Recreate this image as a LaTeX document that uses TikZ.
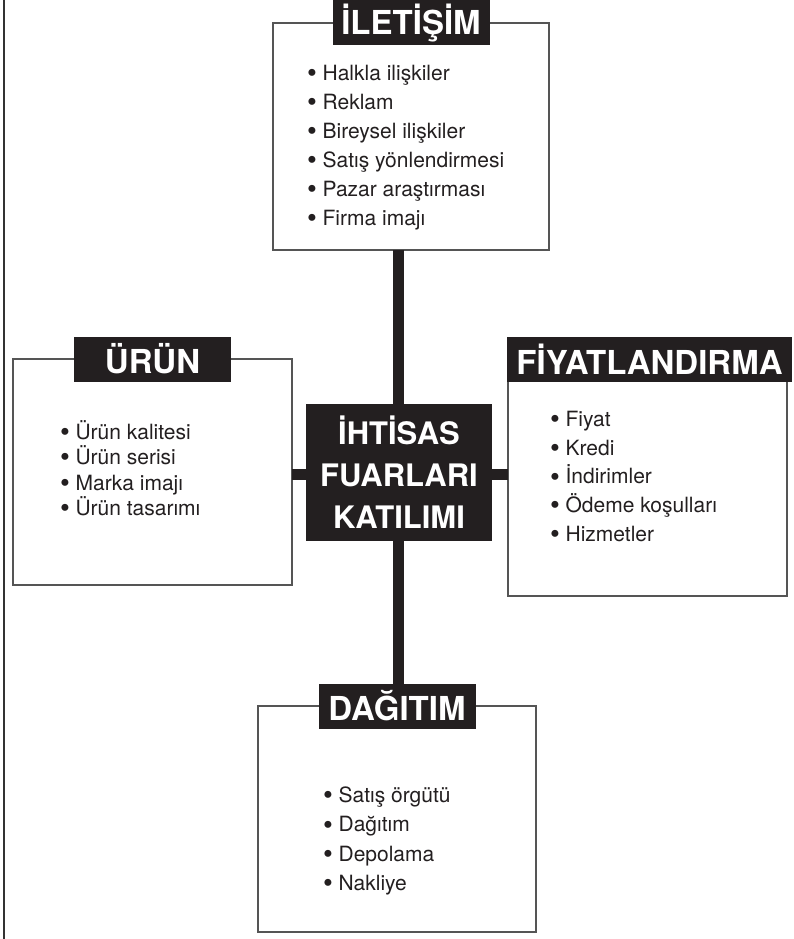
\documentclass[tikz,border=0pt]{standalone}
\usepackage{fontspec}
\setmainfont{TeX Gyre Heros}
\definecolor{ink}{HTML}{231F20}
\definecolor{boxgray}{HTML}{555555}
\definecolor{rulegray}{HTML}{333333}
\newcommand\mybul{\raisebox{-2.3pt}{\fontsize{28}{28}\selectfont •}}
\begin{document}
\begin{tikzpicture}[x=1pt,y=-1pt,
  boxnode/.style={draw=boxgray,line width=1.1pt,inner sep=0pt,outer sep=0pt,anchor=north west},
  titlenode/.style={fill=ink,text=white,font=\fontsize{33}{38}\selectfont\bfseries,
    minimum height=45pt,minimum width=157pt,inner sep=0pt,outer sep=0pt},
  itemnode/.style={anchor=base west,inner sep=0pt,outer sep=0pt,text=ink,font=\fontsize{21}{25}\selectfont},
  bar/.style={draw=ink,line width=11pt},
  hubnode/.style={fill=ink,text=white,minimum width=186pt,minimum height=137pt,inner sep=0pt,
    align=center,font=\fontsize{31}{42}\selectfont\bfseries}]
\useasboundingbox (0,0) rectangle (794,939);
% left margin rule
\draw[rulegray,line width=2.6pt] (4,0) -- (4,939);
% boxes
\node[boxnode,minimum width=276pt,minimum height=227pt] (ilet) at (273,23) {};
\node[boxnode,minimum width=279pt,minimum height=226pt] (urun) at (13,359) {};
\node[boxnode,minimum width=279pt,minimum height=237pt] (fiyat) at (508,359) {};
\node[boxnode,minimum width=278pt,minimum height=226pt] (dagi) at (258,706) {};
% titles
\node[titlenode] (iletT) at (ilet.north) {İLETİŞİM};
\node[titlenode] (urunT) at (urun.north) {ÜRÜN};
\node[titlenode,minimum width=285pt] (fiyatT) at (649.5,359) {FİYATLANDIRMA};
\node[titlenode] (dagiT) at (dagi.north) {DAĞITIM};
% items
\foreach \t [count=\i from 0] in {Halkla ilişkiler,Reklam,Bireysel ilişkiler,Satış yönlendirmesi,Pazar araştırması,Firma imajı}
  \node[itemnode] (iletI\i) at (307,80.5+29*\i) {\mybul\ \t};
\foreach \t [count=\i from 0] in {Ürün kalitesi,Ürün serisi,Marka imajı,Ürün tasarımı}
  \node[itemnode] (urunI\i) at (60,439+25.5*\i) {\mybul\ \t};
\foreach \t [count=\i from 0] in {Fiyat,Kredi,İndirimler,Ödeme koşulları,Hizmetler}
  \node[itemnode] (fiyatI\i) at (550,426.5+28.7*\i) {\mybul\ \t};
\foreach \t [count=\i from 0] in {Satış örgütü,Dağıtım,Depolama,Nakliye}
  \node[itemnode] (dagiI\i) at (323,802.5+29.3*\i) {\mybul\ \t};
% connectors
\coordinate (hubpt) at (398.5,474.5);
\draw[bar] (hubpt) -- (hubpt |- ilet.south);
\draw[bar] (hubpt) -- (hubpt |- dagiT.north);
\draw[bar] (hubpt) -- (hubpt -| urun.east);
\draw[bar] (hubpt) -- (hubpt -| fiyat.west);
% hub
\node[hubnode] (hub) at (399,472.5) {İHTİSAS\\FUARLARI\\KATILIMI};
\end{tikzpicture}
\end{document}
